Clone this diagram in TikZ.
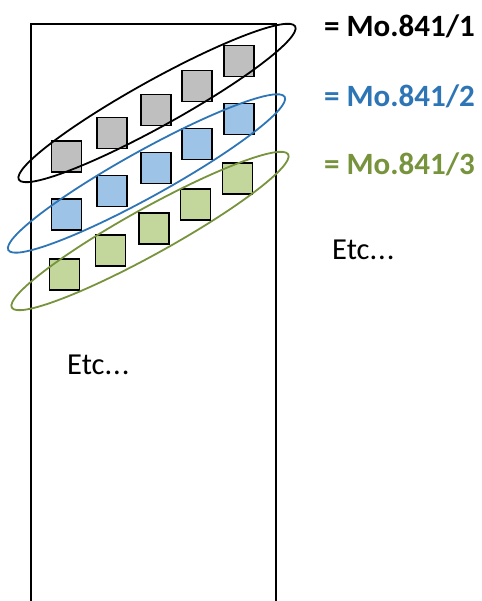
\documentclass[tikz,border=0pt]{standalone}
\usepackage{fontspec}
\setmainfont{Carlito}
\definecolor{mblue}{HTML}{2E75B6}
\definecolor{mgreen}{HTML}{77933C}
\definecolor{fgray}{HTML}{BFBFBF}
\definecolor{fblue}{HTML}{9DC3E6}
\definecolor{fgreen}{HTML}{C3D69B}
\begin{document}
\begin{tikzpicture}[x=1pt,y=1pt,
  sq/.style={draw=black,line width=1.6pt,inner sep=0pt,minimum width=30pt,minimum height=31pt},
  gsq/.style={sq,fill=fgray},
  bsq/.style={sq,fill=fblue},
  grsq/.style={sq,fill=fgreen},
  ring/.style={line width=1.8pt},
  lbl/.style={anchor=base west,inner sep=0pt,font=\fontsize{31}{34}\selectfont\bfseries},
  etc/.style={anchor=base west,inner sep=0pt,font=\fontsize{30.5}{34}\selectfont}]
\useasboundingbox (0,0) rectangle (481,601);
% column outline (open at bottom)
\draw[line width=2pt] (31,-3) -- (31,577) -- (276,577) -- (276,-3);
% squares
\node[gsq] (g1) at (66.5,444.5) {};
\node[gsq] (g2) at (112,468) {};
\node[gsq] (g3) at (156,491) {};
\node[gsq] (g4) at (197,515) {};
\node[gsq] (g5) at (239,540) {};
\node[bsq] (b1) at (66.5,386.5) {};
\node[bsq] (b2) at (112,410) {};
\node[bsq] (b3) at (156,433) {};
\node[bsq] (b4) at (197,457) {};
\node[bsq] (b5) at (239,482) {};
\node[grsq] (n1) at (64.5,326.5) {};
\node[grsq] (n2) at (110.5,350.5) {};
\node[grsq] (n3) at (154,372.5) {};
\node[grsq] (n4) at (195.5,396.5) {};
\node[grsq] (n5) at (237.5,422.5) {};
% ellipses
\draw[ring,black] (157,498) ellipse [x radius=158, y radius=23, rotate=29];
\draw[ring,mblue] (146.5,427.5) ellipse [x radius=158, y radius=23, rotate=29];
\draw[ring,mgreen] (150,370) ellipse [x radius=158, y radius=23, rotate=29];
% labels
\node[lbl,text=black] (l1) at (324,564.3) {= Mo.841/1};
\node[lbl,text=mblue] (l2) at (324,494.3) {= Mo.841/2};
\node[lbl,text=mgreen] (l3) at (324,426) {= Mo.841/3};
\node[etc] (e1) at (332,341.7) {Etc.\kern1pt.\kern1pt.};
\node[etc] (e2) at (67,226) {Etc.\kern1pt.\kern1pt.};
\end{tikzpicture}
\end{document}
